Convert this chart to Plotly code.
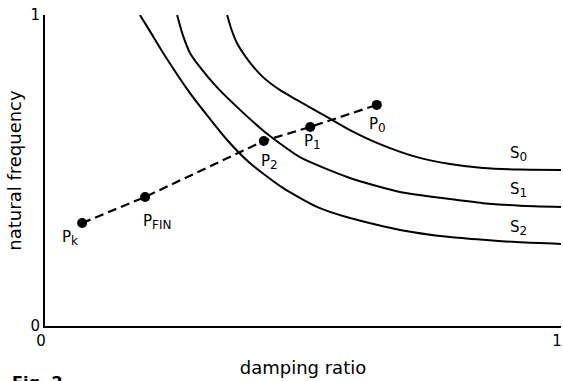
import plotly.graph_objects as go

# Operating points
pt_names = ["P<sub>k</sub>", "P<sub>FIN</sub>", "P<sub>2</sub>", "P<sub>1</sub>", "P<sub>0</sub>"]
pt_x = [0.072, 0.194, 0.424, 0.514, 0.643]
pt_y = [0.331, 0.415, 0.595, 0.640, 0.711]
lbl_x = [0.048, 0.217, 0.436, 0.519, 0.645]
lbl_y = [0.283, 0.334, 0.527, 0.592, 0.646]

# Curves S0, S1, S2
s0_x = [0.353, 0.361, 0.372, 0.395, 0.422, 0.455, 0.488, 0.547, 0.591, 0.649, 0.721, 0.785, 0.849, 0.921, 1.0]
s0_y = [1.0, 0.955, 0.910, 0.852, 0.801, 0.759, 0.727, 0.672, 0.630, 0.585, 0.543, 0.521, 0.508, 0.503, 0.502]
s1_x = [0.256, 0.267, 0.281, 0.300, 0.333, 0.378, 0.426, 0.494, 0.591, 0.688, 0.785, 0.849, 0.921, 1.0]
s1_y = [1.0, 0.936, 0.878, 0.833, 0.768, 0.695, 0.624, 0.543, 0.476, 0.431, 0.408, 0.395, 0.387, 0.383]
s2_x = [0.184, 0.203, 0.229, 0.281, 0.353, 0.397, 0.461, 0.527, 0.591, 0.688, 0.785, 0.849, 0.921, 1.0]
s2_y = [1.0, 0.949, 0.878, 0.749, 0.598, 0.524, 0.444, 0.383, 0.347, 0.309, 0.286, 0.277, 0.269, 0.264]
curve_names = ["S<sub>0</sub>", "S<sub>1</sub>", "S<sub>2</sub>"]
curve_lbl_x = [0.917, 0.917, 0.917]
curve_lbl_y = [0.553, 0.437, 0.315]

FONT = "DejaVu Sans"


def sub_label(t):
    base, sub = t.replace("</sub>", "").split("<sub>")
    return base + "<sub><span style='font-size:12px'>" + sub + "</span></sub>"


fig = go.Figure()
for cx, cy in [(s0_x, s0_y), (s1_x, s1_y), (s2_x, s2_y)]:
    fig.add_trace(go.Scatter(x=cx, y=cy, mode="lines",
                             line=dict(color="black", width=2, shape="spline", smoothing=0.6),
                             showlegend=False, hoverinfo="skip"))
fig.add_trace(go.Scatter(x=pt_x, y=pt_y, mode="lines+markers",
                         line=dict(color="black", width=2.2, dash="9px,5px"),
                         marker=dict(color="black", size=10), showlegend=False))

for n, x, y in zip(pt_names, lbl_x, lbl_y):
    fig.add_annotation(x=x, y=y, text=sub_label(n), showarrow=False,
                       font=dict(family=FONT, size=15, color="black"))
for n, x, y in zip(curve_names, curve_lbl_x, curve_lbl_y):
    fig.add_annotation(x=x, y=y, text=sub_label(n), showarrow=False,
                       font=dict(family=FONT, size=15, color="black"))

fig.add_annotation(xref="paper", yref="paper", x=-0.068, y=-0.145, xanchor="left", yanchor="top",
                   text="<b>Fig. 2</b>", showarrow=False, font=dict(family=FONT, size=16, color="black"))

fig.update_layout(
    width=563, height=381,
    margin=dict(l=45, r=2, t=15, b=55),
    paper_bgcolor="white", plot_bgcolor="white",
    font=dict(family=FONT, size=15, color="black"),
    xaxis=dict(range=[0, 1], tickvals=[0, 1], ticktext=["0", "1"], showgrid=False, zeroline=False,
               showline=True, linecolor="black", linewidth=2, ticks="inside", ticklen=15, tickwidth=2,
               tickcolor="black", ticklabeloverflow="allow", ticklabelshift=-4,
               title=dict(text="damping ratio", standoff=12)),
    yaxis=dict(range=[0, 1], tickvals=[0, 1], ticktext=["0", "1"], showgrid=False, zeroline=False,
               showline=True, linecolor="black", linewidth=2, ticks="inside", ticklen=14, tickwidth=2,
               tickcolor="black", title=dict(text="natural frequency", standoff=4)),
)
fig.write_html("out.html")
